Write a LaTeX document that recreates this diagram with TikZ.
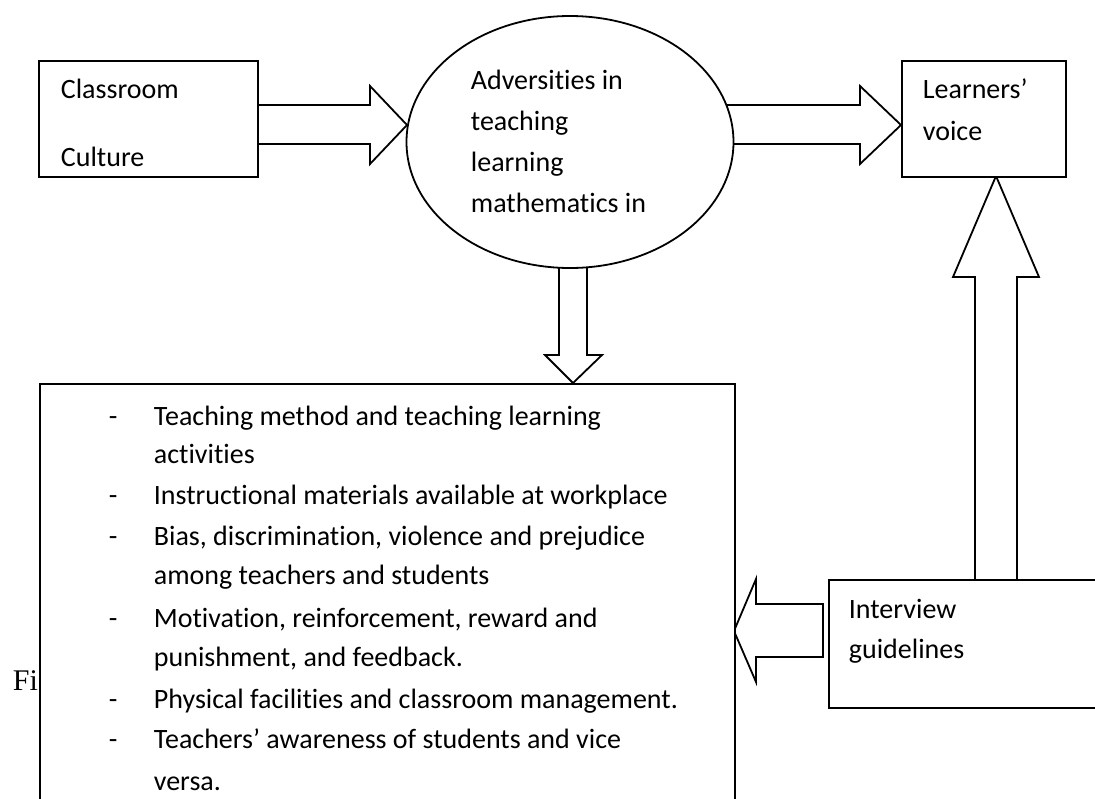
\documentclass[tikz,border=0pt]{standalone}
\usepackage{fontspec}
\setmainfont{Carlito}[Ligatures={NoCommon,NoRequired,NoContextual},Contextuals=NoAlternate,RawFeature={-liga;-clig;-calt}]
\newfontfamily\captionface{Liberation Serif}
\usetikzlibrary{shapes.geometric,calc}

\begin{document}
\begin{tikzpicture}[x=1pt,y=-1pt,line width=1.8pt,
  framebox/.style={draw,fill=white,rectangle,anchor=north west,inner sep=0pt},
  label/.style={anchor=base west,inner sep=0pt,font=\fontsize{28}{34}\selectfont},
  blockarrow/.style={draw,fill=white,line join=miter}]
\useasboundingbox (0,0) rectangle (1095,798);
\clip (0,0) rectangle (1095,798);

% caption fragment partly hidden behind the list box
\node[anchor=base west,inner sep=0pt,font=\captionface\fontsize{30}{36}\selectfont] (fig) at (12,690) {Fi};

% block arrows (drawn first so the shapes cover their tails)
\draw[blockarrow] (257,105) -- (370,105) -- (370,86) -- (407,125) -- (370,164) -- (370,144) -- (257,144);
\draw[blockarrow] (715,105) -- (860,105) -- (860,86) -- (901,125) -- (860,164) -- (860,144) -- (715,144);
\draw[blockarrow] (559,255) -- (559,355) -- (545,355) -- (573,383) -- (602,355) -- (587,355) -- (587,255);
\draw[blockarrow] (975,579) -- (975,277) -- (953,277) -- (996,176) -- (1039,277) -- (1017,277) -- (1017,579);
\draw[blockarrow] (823,604) -- (756,604) -- (756,579) -- (734,631) -- (756,682) -- (756,657) -- (823,657) -- cycle;

% shapes
\node[framebox,minimum width=219pt,minimum height=116pt] (cc) at (38,60) {};
\node[draw,fill=white,ellipse,minimum width=327pt,minimum height=252pt,inner sep=0pt] (adv) at (570,142) {};
\node[framebox,minimum width=164pt,minimum height=116pt] (lv) at (901,60) {};
\node[framebox,minimum width=695pt,minimum height=440pt] (list) at (39,383) {};
\node[framebox,minimum width=300pt,minimum height=128pt] (ig) at (828,579) {};

% texts
\node[label] (cc1) at (60,98) {Classroom};
\node[label] (cc2) at (60,166) {Culture};

\node[label] (adv1) at (470,89) {Adversities in};
\node[label] (adv2) at (470,130) {teaching};
\node[label] (adv3) at (470,171) {learning};
\node[label] (adv4) at (470,212) {mathematics in};

\node[label] (lv1) at (922,98) {Learners’};
\node[label] (lv2) at (922,140) {voice};

\node[label] (ig1) at (848,618) {Interview};
\node[label] (ig2) at (848,658) {guidelines};

\node[label] (d1) at (108,425) {-};
\node[label] (l1) at (153,425) {Teaching method and teaching learning};
\node[label] (l1b) at (153,463) {activities};
\node[label] (d2) at (108,504) {-};
\node[label] (l2) at (153,504) {Instructional materials available at workplace};
\node[label] (d3) at (108,545) {-};
\node[label] (l3) at (153,545) {Bias, discrimination, violence and prejudice};
\node[label] (l3b) at (153,584) {among teachers and students};
\node[label] (d4) at (108,627) {-};
\node[label] (l4) at (153,627) {Motivation, reinforcement, reward and};
\node[label] (l4b) at (153,666) {punishment, and feedback.};
\node[label] (d5) at (108,708) {-};
\node[label] (l5) at (153,708) {Physical facilities and classroom management.};
\node[label] (d6) at (108,748) {-};
\node[label] (l6) at (153,748) {Teachers’ awareness of students and vice};
\node[label] (l6b) at (153,790) {versa.};
\end{tikzpicture}
\end{document}
